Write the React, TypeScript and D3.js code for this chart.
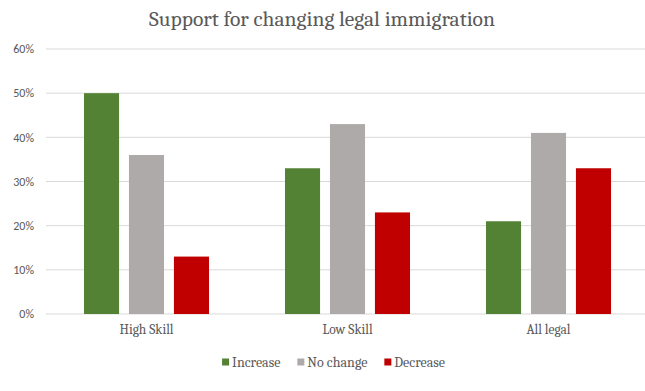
import React, { useEffect, useRef } from 'react'
import * as d3 from 'd3'

const categories = ['High Skill', 'Low Skill', 'All legal']
const seriesNames = ['Increase', 'No change', 'Decrease']
const increase = [0.5, 0.33, 0.21]
const noChange = [0.36, 0.43, 0.41]
const decrease = [0.13, 0.23, 0.33]
const yTicks = [0, 0.1, 0.2, 0.3, 0.4, 0.5, 0.6]
const colors = ['#548235', '#AEAAAA', '#C00000']

const W = 645
const H = 391

export default function App() {
  const ref = useRef<SVGSVGElement>(null)

  useEffect(() => {
    const svg = d3.select(ref.current)
    svg.selectAll('*').remove()

    const margin = { top: 49, right: 0, bottom: 77, left: 46 }
    const width = W - margin.left - margin.right
    const height = H - margin.top - margin.bottom
    const serif = 'Cambria, "Liberation Serif", serif'
    const sans = 'Calibri, "Liberation Sans", sans-serif'

    const values = [increase, noChange, decrease]

    // the category axis runs slightly past the right edge, as in the original
    const x0 = d3.scaleBand().domain(categories).range([0, 603])
      .paddingInner(0.378).paddingOuter(0.189)
    const x1 = d3.scaleBand().domain(seriesNames).range([0, x0.bandwidth()])
      .paddingInner(0.22)
    const y = d3.scaleLinear().domain([0, 0.6]).range([height, 0])

    // title
    svg.append('text')
      .attr('x', 322)
      .attr('y', 26)
      .attr('text-anchor', 'middle')
      .style('font-family', serif)
      .style('font-size', '21.5px')
      .attr('fill', '#595959')
      .text('Support for changing legal immigration')

    const g = svg.append('g').attr('transform', `translate(${margin.left},${margin.top})`)

    // gridlines
    g.selectAll('line.grid')
      .data(yTicks)
      .enter()
      .append('line')
      .attr('x1', 0)
      .attr('x2', width)
      .attr('y1', d => y(d))
      .attr('y2', d => y(d))
      .attr('stroke', '#d9d9d9')
      .attr('stroke-width', 1)

    // y labels
    g.selectAll('text.ylab')
      .data(yTicks)
      .enter()
      .append('text')
      .attr('x', -12)
      .attr('y', d => y(d))
      .attr('dy', '0.35em')
      .attr('text-anchor', 'end')
      .style('font-family', sans)
      .style('font-size', '12px')
      .attr('fill', '#595959')
      .text(d => d3.format('.0%')(d))

    // bars
    const groups = g.selectAll('g.cat')
      .data(categories)
      .enter()
      .append('g')
      .attr('transform', d => `translate(${x0(d)},0)`)

    groups.selectAll('rect')
      .data((d, i) => seriesNames.map((s, j) => ({ s, v: values[j][i], j })))
      .enter()
      .append('rect')
      .attr('x', d => x1(d.s)!)
      .attr('y', d => y(d.v))
      .attr('width', x1.bandwidth())
      .attr('height', d => height - y(d.v))
      .attr('fill', d => colors[d.j])

    // category labels
    g.selectAll('text.xlab')
      .data(categories)
      .enter()
      .append('text')
      .attr('x', d => x0(d)! + x0.bandwidth() / 2)
      .attr('y', height + 20)
      .attr('text-anchor', 'middle')
      .style('font-family', serif)
      .style('font-size', '13.5px')
      .attr('fill', '#595959')
      .text(d => d)

    // legend
    const legend = svg.append('g')
    let cx = 0
    seriesNames.forEach((s, i) => {
      const item = legend.append('g').attr('transform', `translate(${cx},0)`)
      item.append('rect')
        .attr('x', 0)
        .attr('y', -3.5)
        .attr('width', 7)
        .attr('height', 7)
        .attr('fill', colors[i])
      const t = item.append('text')
        .attr('x', 10)
        .attr('y', 0)
        .attr('dy', '0.35em')
        .style('font-family', serif)
        .style('font-size', '14px')
        .attr('fill', '#595959')
        .text(s)
      const tw = (t.node() as SVGTextElement).getComputedTextLength()
      cx += 10 + tw + 17
    })
    const total = cx - 17
    legend.attr('transform', `translate(${(W - total) / 2 + 11},362)`)
  }, [])

  return (
    <svg ref={ref} width={W} height={H} style={{ display: 'block', position: 'absolute', left: 0, top: 0, background: '#fff' }} />
  )
}
